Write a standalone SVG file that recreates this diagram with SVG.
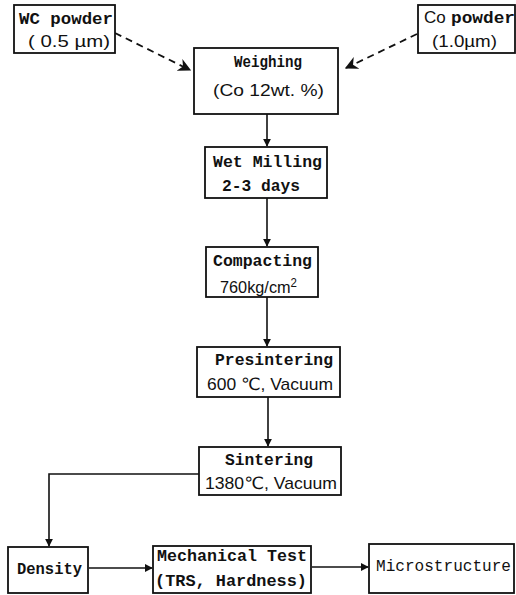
<svg xmlns="http://www.w3.org/2000/svg" width="516" height="595" viewBox="0 0 516 595">
<defs>
<style>
.box{fill:#fff;stroke:#111;stroke-width:1.8}
.tw{font-family:"Liberation Mono","DejaVu Sans Mono",monospace;font-weight:bold;font-size:16.5px;fill:#111}
.sn{font-family:"Liberation Sans","DejaVu Sans",sans-serif;font-size:17px;fill:#111}
.ln{fill:none;stroke:#111;stroke-width:1.6}
.dash{fill:none;stroke:#111;stroke-width:1.8;stroke-dasharray:7,5}
</style>
<marker id="ah" viewBox="0 0 10 10" refX="9" refY="5" markerWidth="8" markerHeight="8" markerUnits="userSpaceOnUse" orient="auto">
<path d="M0,0 L10,5 L0,10 z" fill="#111"/>
</marker>
<marker id="ahb" viewBox="0 0 10 10" refX="9" refY="5" markerWidth="13" markerHeight="13" markerUnits="userSpaceOnUse" orient="auto">
<path d="M0,0 L10,5 L0,10 L3,5 z" fill="#111"/>
</marker>
</defs>
<rect width="516" height="595" fill="#fff"/>
<g id="connectors">
<path class="dash" d="M115,33 L190,70" marker-end="url(#ahb)"/>
<path class="dash" d="M417,34 L346,68" marker-end="url(#ahb)"/>
<path class="ln" d="M267,114 V146" marker-end="url(#ah)"/>
<path class="ln" d="M267,198 V246" marker-end="url(#ah)"/>
<path class="ln" d="M267,297 V346" marker-end="url(#ah)"/>
<path class="ln" d="M268,397 V446" marker-end="url(#ah)"/>
<path class="ln" d="M199,474 H49 V546" marker-end="url(#ah)"/>
<path class="ln" d="M89,568 H152" marker-end="url(#ah)"/>
<path class="ln" d="M312,567 H368" marker-end="url(#ah)"/>
</g>
<g id="wc">
<rect class="box" x="14" y="5" width="101" height="48"/>
<text class="tw" x="19" y="24" textLength="94" lengthAdjust="spacingAndGlyphs">WC powder</text>
<text class="sn" x="28" y="47" textLength="82" lengthAdjust="spacingAndGlyphs">( 0.5 µm)</text>
</g>
<g id="co">
<rect class="box" x="418" y="5" width="97" height="48"/>
<text class="sn" x="424" y="23">Co</text>
<text class="tw" x="451" y="23" textLength="64" lengthAdjust="spacingAndGlyphs">powder</text>
<text class="sn" x="432" y="47" textLength="65" lengthAdjust="spacingAndGlyphs">(1.0µm)</text>
</g>
<g id="weighing">
<rect class="box" x="194" y="48" width="144" height="66"/>
<text class="tw" x="234" y="67" textLength="68" lengthAdjust="spacingAndGlyphs">Weighing</text>
<text class="sn" x="213" y="96" textLength="111" lengthAdjust="spacingAndGlyphs">(Co 12wt. %)</text>
</g>
<g id="milling">
<rect class="box" x="205" y="147" width="122" height="51"/>
<text class="tw" x="213" y="167" textLength="109" lengthAdjust="spacingAndGlyphs">Wet Milling</text>
<text class="tw" x="222" y="191" textLength="78" lengthAdjust="spacingAndGlyphs">2-3 days</text>
</g>
<g id="compacting">
<rect class="box" x="206" y="247" width="112" height="50"/>
<text class="tw" x="213" y="266" textLength="99" lengthAdjust="spacingAndGlyphs">Compacting</text>
<text class="sn" x="220" y="293" textLength="77" lengthAdjust="spacingAndGlyphs">760kg/cm<tspan dy="-6" font-size="12">2</tspan></text>
</g>
<g id="presintering">
<rect class="box" x="197" y="347" width="143" height="50"/>
<text class="tw" x="215" y="365" textLength="118" lengthAdjust="spacingAndGlyphs">Presintering</text>
<text class="sn" x="207" y="390" textLength="126" lengthAdjust="spacingAndGlyphs">600 ℃, Vacuum</text>
</g>
<g id="sintering">
<rect class="box" x="199" y="447" width="142" height="48"/>
<text class="tw" x="225" y="465" textLength="88" lengthAdjust="spacingAndGlyphs">Sintering</text>
<text class="sn" x="205" y="489" textLength="132" lengthAdjust="spacingAndGlyphs">1380℃, Vacuum</text>
</g>
<g id="density">
<rect class="box" x="8" y="547" width="80" height="46"/>
<text class="tw" x="17" y="574" textLength="65" lengthAdjust="spacingAndGlyphs">Density</text>
</g>
<g id="mechanical">
<rect class="box" x="153" y="546" width="158" height="47"/>
<text class="tw" x="157" y="561" textLength="150" lengthAdjust="spacingAndGlyphs">Mechanical Test</text>
<text class="tw" x="155" y="586" textLength="152" lengthAdjust="spacingAndGlyphs">(TRS, Hardness)</text>
</g>
<g id="micro">
<rect class="box" x="369" y="544" width="145" height="49"/>
<text class="tw" x="376" y="571" textLength="135" lengthAdjust="spacingAndGlyphs" style="font-weight:normal">Microstructure</text>
</g>
</svg>
